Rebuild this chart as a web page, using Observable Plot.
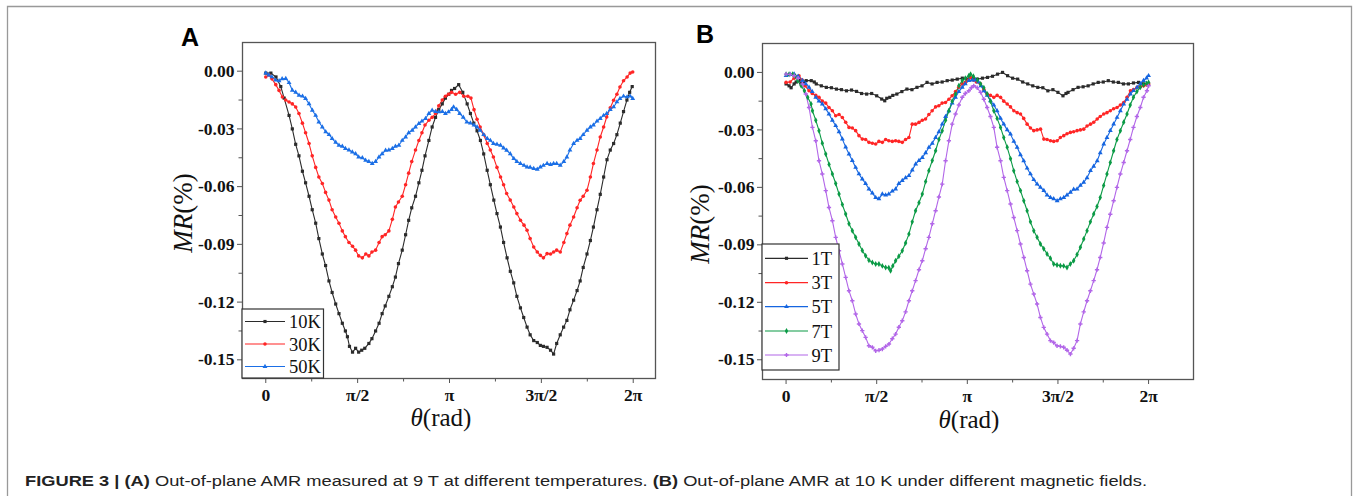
<!DOCTYPE html>
<html><head><meta charset="utf-8">
<script src="https://cdn.jsdelivr.net/npm/d3@7"></script>
<script src="https://cdn.jsdelivr.net/npm/@observablehq/plot@0.6"></script>
<style>
html,body{margin:0;padding:0;background:#fff;}
#root{position:relative;width:1356px;height:496px;overflow:hidden;background:#fff;}
#root > svg, #root > figure{position:absolute;margin:0;}
</style></head><body><div id="root"></div>
<script>
// ---------- tick labels ----------
const xTickMultiples = [0, 0.5, 1, 1.5, 2];          // multiples of π
const xTickLabels = ["0", "π/2", "π", "3π/2", "2π"];
const xMinorMultiples = [0.25, 0.75, 1.25, 1.75];
const yTicks = [0, -0.03, -0.06, -0.09, -0.12, -0.15];
const yMinorTicks = [-0.015, -0.045, -0.075, -0.105, -0.135];

// ---------- panel A: 9 T, different temperatures ([θ in degrees, MR %]) ----------
const namesA = ["10K", "30K", "50K"];
const A_10K = [[0,-0.001],[5,-0.001],[10,-0.003],[14.7,-0.008],[18,-0.014],[22.8,-0.023],[26,-0.030],[29.3,-0.038],[32.5,-0.044],[35.9,-0.052],[39,-0.058],[42.4,-0.065],[45.5,-0.072],[48.9,-0.079],[52,-0.087],[55.4,-0.095],[58.6,-0.101],[61.9,-0.109],[65,-0.115],[68.5,-0.121],[71.7,-0.126],[75,-0.131],[78,-0.135],[80,-0.138],[82,-0.143],[85,-0.146],[88,-0.144],[91,-0.146],[94,-0.145],[97,-0.144],[101,-0.1415],[104,-0.139],[107.6,-0.135],[111,-0.131],[114,-0.126],[117,-0.122],[120.6,-0.117],[124,-0.112],[127,-0.107],[130,-0.100],[133.7,-0.093],[137,-0.085],[140,-0.0775],[143,-0.071],[146.7,-0.065],[150,-0.058],[153,-0.0515],[156,-0.044],[159.8,-0.036],[163,-0.029],[166.3,-0.024],[169.5,-0.020],[172.9,-0.017],[176,-0.014],[179.3,-0.012],[182,-0.010],[185,-0.009],[189,-0.007],[193,-0.011],[197.3,-0.017],[200.5,-0.022],[203.8,-0.027],[207,-0.031],[210.3,-0.036],[213.5,-0.043],[216.9,-0.0515],[220,-0.059],[223.4,-0.067],[226.5,-0.074],[229.9,-0.081],[233,-0.089],[236.4,-0.097],[239.6,-0.104],[242.9,-0.110],[246,-0.117],[249.5,-0.123],[252.7,-0.128],[256,-0.133],[259,-0.137],[262.5,-0.140],[266,-0.141],[269,-0.1425],[272,-0.143],[275.6,-0.1435],[279,-0.145],[282,-0.147],[285,-0.1415],[288.5,-0.137],[291.8,-0.133],[295,-0.1295],[298,-0.124],[301.6,-0.119],[305,-0.114],[308,-0.109],[311,-0.102],[314.7,-0.095],[318,-0.088],[321,-0.081],[324.5,-0.072],[327.7,-0.064],[331,-0.055],[334.3,-0.046],[337.5,-0.041],[340.8,-0.0376],[344,-0.033],[347.3,-0.027],[350.5,-0.021],[353.8,-0.015],[356.5,-0.011],[359,-0.008]];
const A_30K = [[0,-0.003],[3,-0.002],[6,-0.004],[9.8,-0.007],[13,-0.010],[16.3,-0.0134],[19.5,-0.015],[22.8,-0.016],[26,-0.017],[29.3,-0.0186],[32.5,-0.022],[35.9,-0.027],[39,-0.032],[42.4,-0.0376],[45.5,-0.044],[48.9,-0.050],[52,-0.055],[55.4,-0.0584],[58.6,-0.063],[61.9,-0.067],[65,-0.072],[68.5,-0.0758],[71.7,-0.079],[75,-0.083],[78,-0.086],[81.5,-0.089],[85,-0.091],[88,-0.093],[91,-0.096],[94.6,-0.097],[98,-0.095],[101,-0.096],[104,-0.094],[107.6,-0.093],[111,-0.089],[114,-0.086],[117,-0.085],[120.6,-0.083],[124,-0.077],[127,-0.0706],[130,-0.068],[133.7,-0.065],[137,-0.059],[140,-0.053],[143,-0.047],[146.7,-0.041],[150,-0.036],[153,-0.032],[156,-0.028],[159.8,-0.0255],[163,-0.024],[166.3,-0.022],[169.5,-0.018],[172.9,-0.015],[176,-0.013],[179,-0.012],[182,-0.011],[186,-0.012],[190,-0.011],[194,-0.013],[198,-0.013],[201,-0.014],[204,-0.020],[207,-0.025],[210,-0.029],[213.5,-0.033],[217,-0.0376],[220,-0.041],[223,-0.0446],[226.5,-0.050],[230,-0.055],[233,-0.059],[236,-0.0636],[239.5,-0.067],[243,-0.0706],[246,-0.074],[249.5,-0.0775],[253,-0.080],[256,-0.0827],[259,-0.087],[262.5,-0.0914],[266,-0.094],[269,-0.0957],[272,-0.097],[275.6,-0.0948],[279,-0.095],[282,-0.094],[285,-0.093],[288.5,-0.094],[292,-0.089],[295,-0.0844],[298,-0.080],[301.6,-0.0758],[305,-0.071],[308,-0.0671],[311,-0.065],[314.7,-0.0619],[318,-0.055],[321,-0.048],[324.5,-0.041],[327.7,-0.0342],[331,-0.029],[334,-0.0238],[337.5,-0.019],[340.8,-0.0151],[344,-0.012],[347,-0.0082],[350.5,-0.005],[354,-0.003],[357,-0.001],[359.5,-0.0004]];
const A_50K = [[0,-0.001],[3,-0.002],[6,-0.003],[9.8,-0.0047],[13,-0.005],[16,-0.004],[19.6,-0.0038],[22.8,-0.006],[26,-0.0099],[29.3,-0.011],[32.6,-0.0125],[36,-0.013],[39,-0.0142],[42.4,-0.017],[45.6,-0.0203],[48.9,-0.023],[52,-0.0264],[55.4,-0.029],[58.7,-0.0315],[62,-0.033],[65,-0.035],[68.5,-0.037],[71.7,-0.0385],[75,-0.039],[78,-0.0402],[81.5,-0.041],[84.8,-0.042],[88,-0.043],[91,-0.0446],[94.6,-0.045],[97.8,-0.0463],[101,-0.047],[104.3,-0.048],[107.6,-0.047],[110.9,-0.0446],[114,-0.043],[117.4,-0.0411],[120.6,-0.041],[124,-0.0402],[127,-0.039],[130.4,-0.0385],[133.7,-0.036],[137,-0.0342],[140,-0.032],[143.5,-0.0307],[146.7,-0.029],[150,-0.0272],[153,-0.026],[156.5,-0.0246],[159.8,-0.022],[163,-0.0203],[166.3,-0.021],[169.6,-0.0212],[173,-0.021],[176,-0.022],[179,-0.0212],[182,-0.020],[184,-0.0186],[187,-0.020],[190,-0.022],[193.5,-0.024],[197,-0.0264],[200.5,-0.027],[204,-0.028],[207,-0.029],[210,-0.0307],[213.5,-0.033],[217,-0.035],[220,-0.036],[223,-0.0376],[226.5,-0.038],[230,-0.0385],[233,-0.040],[236,-0.0411],[239.5,-0.043],[243,-0.0454],[246,-0.047],[249.5,-0.048],[253,-0.049],[256,-0.0498],[259,-0.050],[262.5,-0.0506],[266,-0.051],[269,-0.0498],[272,-0.049],[275.6,-0.048],[279,-0.0485],[282,-0.048],[285,-0.048],[288.5,-0.0489],[292,-0.047],[295,-0.0446],[298,-0.041],[301.6,-0.0376],[305,-0.036],[308,-0.035],[311,-0.033],[314.7,-0.0307],[318,-0.029],[321,-0.028],[324.5,-0.026],[327.7,-0.0246],[331,-0.023],[334,-0.022],[337.5,-0.020],[340.8,-0.0186],[344,-0.016],[347,-0.0142],[350.5,-0.013],[354,-0.0134],[357,-0.013],[359.5,-0.0142]];

// ---------- panel B: 10 K, different fields ----------
const namesB = ["1T", "3T", "5T", "7T", "9T"];
const B_1T = [[0,-0.006],[3,-0.007],[5,-0.008],[8,-0.006],[10,-0.005],[13,-0.004],[15,-0.006],[18,-0.005],[20,-0.0043],[25,-0.0043],[28,-0.005],[30,-0.006],[35,-0.007],[40,-0.0078],[45,-0.008],[50,-0.0087],[55,-0.009],[60,-0.0096],[65,-0.0092],[70,-0.0099],[75,-0.011],[80,-0.0113],[85,-0.011],[90,-0.0122],[95,-0.0139],[98,-0.0148],[100,-0.0135],[103,-0.013],[106,-0.012],[110,-0.0113],[115,-0.010],[120,-0.0087],[125,-0.009],[130,-0.0078],[135,-0.007],[140,-0.0052],[145,-0.006],[150,-0.0052],[155,-0.005],[160,-0.0043],[165,-0.004],[170,-0.0035],[175,-0.003],[180,-0.0035],[185,-0.003],[190,-0.0035],[195,-0.003],[200,-0.0026],[205,-0.002],[210,-0.0009],[215,0.0],[220,-0.0017],[225,-0.003],[230,-0.0035],[235,-0.005],[240,-0.006],[245,-0.007],[250,-0.0078],[255,-0.008],[260,-0.0096],[265,-0.009],[270,-0.0104],[275,-0.0122],[278,-0.011],[280,-0.0104],[285,-0.009],[290,-0.0078],[295,-0.0075],[300,-0.007],[305,-0.006],[310,-0.0052],[315,-0.005],[320,-0.0043],[325,-0.005],[330,-0.0052],[335,-0.006],[340,-0.006],[345,-0.0055],[350,-0.0052],[355,-0.006],[360,-0.006]];
const B_3T = [[0,-0.0052],[4,-0.005],[8,-0.003],[12.8,-0.0017],[16,-0.004],[19,-0.007],[22.8,-0.0096],[26,-0.011],[29.5,-0.012],[32.7,-0.013],[36,-0.015],[39.4,-0.016],[42.6,-0.0183],[46,-0.020],[49.3,-0.0226],[52.6,-0.022],[55.9,-0.0235],[59.2,-0.026],[62.5,-0.0287],[65.8,-0.029],[69.1,-0.0304],[72.4,-0.033],[75.7,-0.0348],[79,-0.035],[82.3,-0.0365],[85.7,-0.037],[89,-0.0374],[92.2,-0.036],[95.6,-0.0365],[98.9,-0.035],[102,-0.0357],[105.5,-0.036],[108.8,-0.0357],[112,-0.036],[115.4,-0.0365],[118.7,-0.035],[122,-0.034],[125.3,-0.027],[128.6,-0.027],[132,-0.0261],[135.3,-0.025],[138.5,-0.0243],[141.8,-0.022],[145.1,-0.020],[148.5,-0.018],[151.7,-0.0174],[155,-0.016],[158.3,-0.0157],[161.7,-0.014],[164.9,-0.0122],[168.3,-0.010],[171.5,-0.0078],[175,-0.006],[178,-0.0052],[181,-0.004],[183,-0.0026],[186,-0.004],[189,-0.005],[193,-0.006],[196.4,-0.009],[199.7,-0.0113],[203,-0.012],[206.3,-0.013],[209.6,-0.012],[213,-0.013],[216.2,-0.015],[219.6,-0.0165],[222.9,-0.018],[226.2,-0.020],[229.5,-0.021],[232.8,-0.0217],[236,-0.024],[239.4,-0.027],[242.7,-0.029],[246,-0.0304],[249.3,-0.030],[252.7,-0.0296],[256,-0.0348],[259.2,-0.035],[262.6,-0.0357],[265.8,-0.036],[269.2,-0.0357],[272.4,-0.034],[275.8,-0.033],[279,-0.032],[282.4,-0.0313],[285.6,-0.031],[289,-0.0304],[292.3,-0.030],[295.6,-0.0296],[298.9,-0.028],[302.3,-0.027],[305.5,-0.026],[309,-0.0243],[312,-0.023],[315.5,-0.0217],[318.7,-0.021],[322,-0.020],[325.3,-0.019],[328.7,-0.0183],[332,-0.017],[335.3,-0.0157],[338.6,-0.013],[342,-0.0096],[345,-0.009],[348.6,-0.0078],[352,-0.0075],[355,-0.007],[358,-0.0065],[360,-0.0061]];
const B_5T = [[0,-0.0017],[4,-0.001],[8,-0.0009],[12,-0.002],[16.3,-0.0043],[19.5,-0.006],[22.8,-0.0078],[26,-0.010],[29.5,-0.013],[32.7,-0.015],[36,-0.0165],[39.4,-0.019],[42.6,-0.0217],[46,-0.025],[49.3,-0.0278],[52.6,-0.031],[55.9,-0.0348],[59.2,-0.039],[62.5,-0.0426],[65.8,-0.046],[69.1,-0.0496],[72.4,-0.053],[75.7,-0.0557],[79,-0.058],[82.3,-0.0609],[85.7,-0.063],[89,-0.0653],[92.2,-0.066],[95.6,-0.0635],[98.9,-0.064],[102,-0.0635],[105.5,-0.062],[108.8,-0.0609],[112,-0.058],[115.4,-0.0565],[118.7,-0.055],[122,-0.0539],[125.3,-0.051],[128.7,-0.0478],[132,-0.046],[135.3,-0.0444],[138.6,-0.042],[141.9,-0.0391],[145.2,-0.037],[148.5,-0.034],[151.8,-0.031],[155.1,-0.027],[158.4,-0.023],[161.7,-0.020],[165,-0.016],[168.3,-0.013],[171.6,-0.010],[175,-0.0078],[178,-0.006],[181.5,-0.0043],[185,-0.004],[188,-0.004],[191,-0.005],[193.5,-0.007],[196.4,-0.0096],[199.7,-0.012],[203,-0.0148],[206.3,-0.017],[209.6,-0.020],[213,-0.024],[216.2,-0.027],[219.6,-0.030],[222.9,-0.0322],[226.2,-0.036],[229.5,-0.0391],[232.8,-0.043],[236,-0.0461],[239.4,-0.050],[242.7,-0.053],[246,-0.056],[249.3,-0.0583],[252.6,-0.060],[256,-0.0617],[259.2,-0.064],[262.6,-0.0653],[265.8,-0.066],[269.2,-0.067],[272.4,-0.066],[275.8,-0.0653],[279,-0.064],[282.4,-0.0626],[285.6,-0.061],[289,-0.0609],[292.3,-0.059],[295.6,-0.0574],[298.9,-0.055],[302.3,-0.0513],[305.5,-0.049],[309,-0.0461],[312,-0.042],[315.5,-0.0374],[318.7,-0.034],[322,-0.0304],[325.3,-0.027],[328.7,-0.0235],[332,-0.020],[335.3,-0.0165],[338.6,-0.014],[342,-0.0113],[345,-0.0095],[348.6,-0.0078],[352,-0.006],[355,-0.0043],[358,-0.003],[360,-0.0017]];
const B_7T = [[0,-0.0009],[3,-0.001],[6.6,-0.0009],[9,-0.002],[11.6,-0.0043],[15,-0.007],[18.2,-0.0096],[21.5,-0.013],[24.8,-0.0165],[26.2,-0.020],[29.5,-0.025],[32.7,-0.0304],[36,-0.037],[39.4,-0.0426],[42.7,-0.048],[46,-0.053],[49.3,-0.058],[52.6,-0.0635],[55.9,-0.069],[59.2,-0.0739],[62.5,-0.079],[65.8,-0.0826],[69.1,-0.086],[72.4,-0.0896],[75.7,-0.093],[79,-0.0957],[82.3,-0.098],[85.7,-0.0992],[89,-0.100],[92.2,-0.100],[95.6,-0.101],[98.9,-0.1018],[102,-0.102],[103.8,-0.1035],[106,-0.101],[108.8,-0.0983],[112,-0.096],[115.4,-0.0931],[118.7,-0.089],[122,-0.0844],[125.3,-0.078],[128.6,-0.0722],[132,-0.068],[135.3,-0.0635],[138.6,-0.057],[141.8,-0.0513],[145.2,-0.046],[148.5,-0.0409],[151.8,-0.035],[155.1,-0.0304],[158.4,-0.025],[161.7,-0.020],[165,-0.015],[168.3,-0.0113],[171.6,-0.007],[175,-0.0043],[178,-0.003],[181.5,-0.0017],[183.2,-0.0009],[186,-0.002],[190,-0.004],[193.2,-0.006],[196.4,-0.008],[199.7,-0.0113],[203,-0.015],[206.3,-0.020],[209.6,-0.024],[213,-0.0287],[216.2,-0.034],[219.6,-0.0391],[222.9,-0.045],[226.1,-0.0513],[229.5,-0.057],[232.8,-0.0617],[236.1,-0.067],[239.4,-0.0722],[242.7,-0.078],[246,-0.0826],[249.3,-0.086],[252.6,-0.0896],[255.9,-0.092],[259.2,-0.0948],[262.5,-0.097],[265.8,-0.100],[269.1,-0.1005],[272.4,-0.1009],[275.7,-0.101],[279,-0.1018],[282.3,-0.100],[285.6,-0.0983],[289,-0.095],[292.3,-0.0913],[295.6,-0.087],[298.9,-0.0826],[302.2,-0.078],[305.5,-0.0739],[308.8,-0.070],[312,-0.0653],[315.4,-0.059],[318.7,-0.053],[322,-0.047],[325.3,-0.0409],[328.6,-0.035],[332,-0.0304],[335.3,-0.026],[338.6,-0.0217],[341.8,-0.017],[345,-0.013],[348.4,-0.010],[351.8,-0.0078],[355,-0.0065],[358,-0.0058],[360,-0.0052]];
const B_9T = [[0,-0.0009],[4,-0.001],[8,-0.0017],[12,-0.003],[16.3,-0.006],[19.6,-0.0113],[22.8,-0.0183],[26.2,-0.0287],[29.5,-0.0357],[32.7,-0.0461],[36,-0.053],[39.4,-0.0617],[42.6,-0.0705],[46,-0.0774],[49.3,-0.0861],[52.6,-0.0931],[55.9,-0.100],[59.2,-0.107],[62.5,-0.114],[65.8,-0.1192],[69.1,-0.1261],[72.4,-0.1313],[75.7,-0.1348],[79,-0.1383],[82.3,-0.1427],[85.7,-0.1435],[89,-0.1453],[92.3,-0.145],[95.6,-0.1444],[98.9,-0.143],[102.2,-0.1418],[105.5,-0.139],[108.8,-0.1366],[112,-0.133],[115.4,-0.1296],[118.7,-0.125],[122,-0.1192],[125.3,-0.114],[128.6,-0.1087],[132,-0.103],[135.3,-0.0983],[138.6,-0.092],[141.8,-0.0861],[145.2,-0.079],[148.5,-0.0722],[151.8,-0.065],[155.1,-0.0583],[158.4,-0.0461],[161.7,-0.0357],[165,-0.027],[168.3,-0.0217],[171.6,-0.017],[175,-0.013],[178,-0.011],[181.5,-0.0096],[184,-0.008],[186.4,-0.007],[189.8,-0.008],[193.2,-0.0104],[196.4,-0.014],[199.7,-0.0183],[203,-0.023],[206.3,-0.0287],[209.6,-0.0391],[213,-0.0461],[216.2,-0.0548],[219.6,-0.0617],[222.9,-0.0687],[226.1,-0.0757],[229.5,-0.0826],[232.8,-0.0896],[236.1,-0.0966],[239.4,-0.1035],[242.7,-0.1105],[246,-0.1157],[249.3,-0.1209],[252.6,-0.1279],[255.9,-0.1331],[259.2,-0.1366],[262.5,-0.140],[265.8,-0.141],[269.1,-0.1427],[272.4,-0.143],[275.7,-0.1435],[279,-0.145],[282.4,-0.147],[285.6,-0.144],[289,-0.140],[292.3,-0.1313],[295.6,-0.125],[298.9,-0.1192],[302.2,-0.114],[305.5,-0.1087],[308.8,-0.103],[312,-0.0966],[315.4,-0.089],[318.7,-0.0809],[322,-0.074],[325.3,-0.067],[328.6,-0.060],[332,-0.053],[335.3,-0.047],[338.6,-0.0409],[341.8,-0.035],[345,-0.0287],[348.4,-0.023],[351.8,-0.0183],[355,-0.013],[358.4,-0.0096],[360,-0.007]];

// ---------- styles ----------
const colorsA = ["#2b2b2b", "#ff2525", "#1b6fe6"];
const symbolsA = ["square", "circle", "triangle"];
const colorsB = ["#2b2b2b", "#ff2525", "#1565e0", "#0a9a45", "#b266e8"];
const symbolsB = ["square", "circle", "triangle", "diamond", "cross"];
const captionBold1 = "FIGURE 3 | (A)";
const captionText1 = " Out-of-plane AMR measured at 9 T at different temperatures. ";
const captionBold2 = "(B)";
const captionText2 = " Out-of-plane AMR at 10 K under different magnetic fields.";

const PI = Math.PI, DEG = PI / 180;
const AXIS = "#555";
const labelFor = d => xTickLabels[xTickMultiples.findIndex(m => Math.abs(m * PI - d) < 1e-9)];

function makePanel(cfg) {
  const rows = cfg.names.flatMap((n, i) => cfg.values[i].map(([deg, v]) => ({s: n, t: deg * DEG, v})));
  return Plot.plot({
    width: cfg.width, height: cfg.height,
    marginLeft: cfg.m[0], marginTop: cfg.m[1], marginRight: cfg.m[2], marginBottom: cfg.m[3],
    style: {fontFamily: '"Liberation Serif", "Times New Roman", serif', fontSize: "17.5px", fontWeight: "bold", color: "#111", background: "transparent", overflow: "visible"},
    x: {domain: cfg.xDomain, label: null},
    y: {domain: cfg.yDomain, label: null},
    color: {domain: cfg.names, range: cfg.colors},
    symbol: {domain: cfg.names, range: cfg.symbols},
    marks: [
      Plot.line(rows, {x: "t", y: "v", z: "s", stroke: "s", strokeWidth: 1.1}),
      Plot.dot(rows, {x: "t", y: "v", fill: "s", symbol: "s", r: 1.8}),
      Plot.axisX({ticks: xTickMultiples.map(m => m * PI), tickFormat: labelFor, tickSize: 5, tickPadding: 5, stroke: AXIS, label: null}),
      Plot.axisX({ticks: xMinorMultiples.map(m => m * PI), tickFormat: () => "", tickSize: 3.5, stroke: AXIS, label: null}),
      Plot.axisY({ticks: yTicks, tickFormat: d => d.toFixed(2), tickSize: 5, tickPadding: 3, stroke: AXIS, label: null}),
      Plot.axisY({ticks: yMinorTicks, tickFormat: () => "", tickSize: 3.5, stroke: AXIS, label: null}),
      Plot.frame({stroke: AXIS, strokeWidth: 1.3})
    ]
  });
}

const root = document.getElementById("root");
const pA = makePanel({names: namesA, values: [A_10K, A_30K, A_50K], colors: colorsA, symbols: symbolsA,
  width: 520, height: 410, m: [82, 12, 25, 62], xDomain: [-0.398, 6.664], yDomain: [-0.1597, 0.0149]});
pA.style.left = "160px"; pA.style.top = "30px";
root.appendChild(pA);
const pB = makePanel({names: namesB, values: [B_1T, B_3T, B_5T, B_7T, B_9T], colors: colorsB, symbols: symbolsB,
  width: 540, height: 410, m: [82, 13, 27, 61], xDomain: [-0.4085, 7.062], yDomain: [-0.1603, 0.0151]});
pB.style.left = "680px"; pB.style.top = "30px";
root.appendChild(pB);

// ---------- overlay: border, panel letters, axis titles, legends, caption ----------
const svg = d3.select(root).append("svg").attr("width", 1356).attr("height", 496)
  .style("left", "0px").style("top", "0px").style("pointer-events", "none");
svg.append("path").attr("d", "M7.5,500V6.5H1351.5V500").attr("fill", "none").attr("stroke", "#999").attr("stroke-width", 1.3);

const serif = '"Liberation Serif", "Times New Roman", serif';
const sans = '"Liberation Sans", Arial, sans-serif';
[["A", 181, 46], ["B", 696, 43]].forEach(([t, x, y]) =>
  svg.append("text").attr("x", x).attr("y", y).attr("font-family", sans).attr("font-weight", "bold").attr("font-size", 25).attr("fill", "#000").text(t));

function xTitle(cx, y) {
  const t = svg.append("text").attr("x", cx).attr("y", y).attr("text-anchor", "middle").attr("font-family", serif).attr("font-size", 25).attr("fill", "#111");
  t.append("tspan").attr("font-style", "italic").text("θ");
  t.append("tspan").text("(rad)");
}
xTitle(441, 426); xTitle(969, 428);
function yTitle(x, cy) {
  const t = svg.append("text").attr("transform", `translate(${x},${cy}) rotate(-90)`).attr("text-anchor", "middle").attr("font-family", serif).attr("font-size", 27).attr("fill", "#111");
  t.append("tspan").attr("font-style", "italic").text("MR");
  t.append("tspan").text("(%)");
}
yTitle(192, 213); yTitle(709, 224);

const symMap = {square: d3.symbolSquare, circle: d3.symbolCircle, triangle: d3.symbolTriangle, diamond: d3.symbolDiamond, cross: d3.symbolCross};
function legend(names, colors, symbols, box, rowsY, x1, x2, tx) {
  svg.append("rect").attr("x", box[0]).attr("y", box[1]).attr("width", box[2]).attr("height", box[3]).attr("fill", "#fff").attr("stroke", "#333").attr("stroke-width", 1.2);
  names.forEach((n, i) => {
    const y = rowsY[i];
    svg.append("line").attr("x1", x1).attr("x2", x2).attr("y1", y).attr("y2", y).attr("stroke", colors[i]).attr("stroke-width", 1.2);
    svg.append("path").attr("transform", `translate(${(x1 + x2) / 2},${y})`).attr("d", d3.symbol(symMap[symbols[i]], 10)()).attr("fill", colors[i]);
    svg.append("text").attr("x", tx).attr("y", y + 6.5).attr("font-family", serif).attr("font-size", 18.5).attr("fill", "#111").text(n);
  });
}
legend(namesA, colorsA, symbolsA, [242, 309, 81.5, 69], [321.5, 344, 366.5], 245, 285, 289);
legend(namesB, colorsB, symbolsB, [762, 244, 77, 126], [258.3, 282.7, 306.7, 331, 355], 765, 808, 811.5);

const cap = svg.append("text").attr("x", 25).attr("y", 486).attr("font-family", sans).attr("font-size", 15.5).attr("fill", "#222")
  .attr("textLength", 1122).attr("lengthAdjust", "spacingAndGlyphs");
cap.append("tspan").attr("font-weight", "bold").text(captionBold1);
cap.append("tspan").text(captionText1);
cap.append("tspan").attr("font-weight", "bold").text(captionBold2);
cap.append("tspan").text(captionText2);
</script></body></html>
